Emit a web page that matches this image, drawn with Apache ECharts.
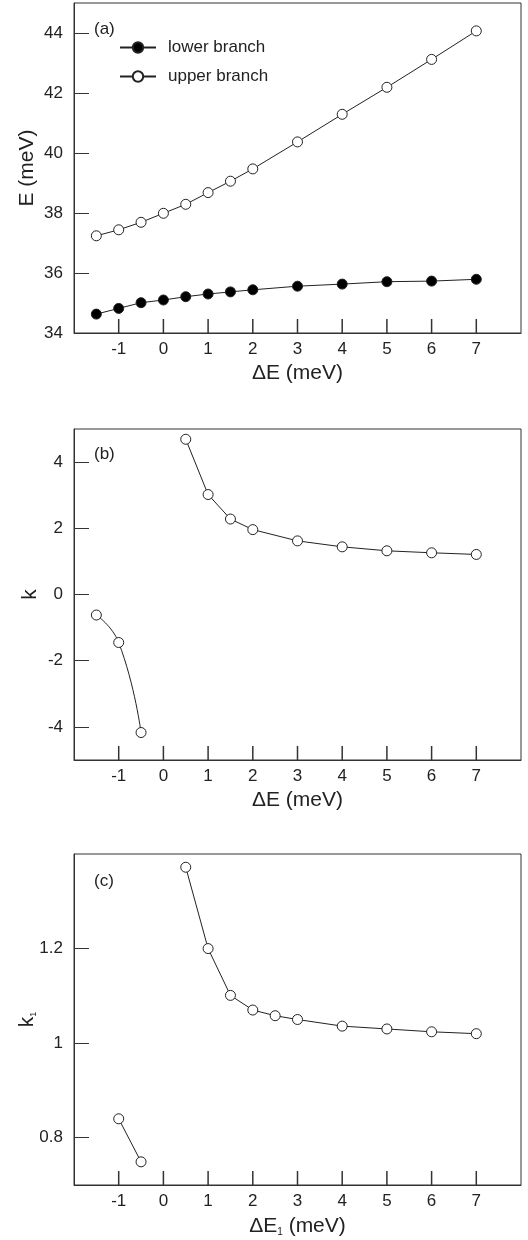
<!DOCTYPE html>
<html>
<head>
<meta charset="utf-8">
<script src="https://cdn.jsdelivr.net/npm/echarts@6/dist/echarts.min.js"></script>
<style>
  html, body { margin: 0; padding: 0; background: #fff; }
  #chart { width: 528px; height: 1240px; }
</style>
</head>
<body>
<div id="chart"></div>
<script>
// panel (a)
const dEa = [-1.5, -1, -0.5, 0, 0.5, 1, 1.5, 2, 3, 4, 5, 6, 7]
const lowerBranch = [34.63, 34.82, 35.01, 35.1, 35.21, 35.3, 35.37, 35.44, 35.56, 35.63, 35.71, 35.73, 35.79]
const upperBranch = [37.24, 37.44, 37.69, 37.99, 38.29, 38.68, 39.06, 39.47, 40.37, 41.29, 42.19, 43.12, 44.07]

// panel (b)
const dEbLow = [-1.5, -1, -0.5]
const kLow = [-0.62, -1.45, -4.17]
const dEbHigh = [0.5, 1, 1.5, 2, 3, 4, 5, 6, 7]
const kHigh = [4.69, 3.02, 2.28, 1.96, 1.62, 1.44, 1.32, 1.26, 1.21]

// panel (c)
const dEcLow = [-1, -0.5]
const k1Low = [0.84, 0.749]
const dEcHigh = [0.5, 1, 1.5, 2, 2.5, 3, 4, 5, 6, 7]
const k1High = [1.372, 1.2, 1.101, 1.07, 1.058, 1.05, 1.036, 1.03, 1.024, 1.02]

// tick labels
const xTicks = [-1, 0, 1, 2, 3, 4, 5, 6, 7]
const yTicksA = [34, 36, 38, 40, 42, 44]
const yTicksB = [-4, -2, 0, 2, 4]
const yTicksC = [0.8, 1, 1.2]

// axis ranges
const yMinA = 34, yMaxA = 45
const yMinB = -5, yMaxB = 5
const yMinC = 0.7, yMaxC = 1.4

const font = 'Liberation Sans, Arial, sans-serif'
const ink = '#222'

const pairs = (xs, ys) => xs.map((x, i) => [x, ys[i]])

function xAxis(idx, name) {
    return {
        type: 'value', gridIndex: idx, min: -2, max: 8,
        name: name, nameLocation: 'middle', nameGap: 30, nameMoveOverlap: false,
        nameTextStyle: {
            fontFamily: font, fontSize: 21, color: ink,
            rich: {
                a: { fontFamily: font, fontSize: 21, color: ink },
                s: { fontFamily: font, fontSize: 10, color: ink, padding: [12, 0, 0, 0] }
            }
        },
        axisLine: { show: true, onZero: false, lineStyle: { color: '#333' } },
        axisTick: { show: false },
        axisLabel: { customValues: xTicks, fontFamily: font, fontSize: 17, color: ink },
        splitLine: { show: false }
    }
}

function yAxis(idx, min, max, ticks, name, gap) {
    return {
        type: 'value', gridIndex: idx, min: min, max: max,
        name: name, nameLocation: 'middle', nameGap: gap, nameRotate: 90, nameMoveOverlap: false,
        nameTextStyle: {
            fontFamily: font, fontSize: 21, color: ink,
            rich: {
                a: { fontFamily: font, fontSize: 21, color: ink },
                s: { fontFamily: font, fontSize: 9, color: ink, padding: [12, 0, 0, 0] }
            }
        },
        axisLine: { show: true, onZero: false, lineStyle: { color: '#333', width: 1 } },
        axisTick: { show: true, inside: true, length: 15, customValues: ticks, lineStyle: { color: '#333', width: 1 } },
        axisLabel: { customValues: ticks, margin: 11, fontFamily: font, fontSize: 17, color: ink },
        splitLine: { show: false }
    }
}

function line(name, idx, data, filled, smooth) {
    return {
        name: name, type: 'line', xAxisIndex: idx, yAxisIndex: idx,
        data: data, smooth: smooth, symbol: 'circle', symbolSize: 10,
        showAllSymbol: true, z: 3,
        lineStyle: { color: '#222', width: 1 },
        itemStyle: { color: filled ? '#000' : '#fff', borderColor: '#222', borderWidth: 1 }
    }
}

// bottom ticks drawn by hand: the axisTick ones kept dropping out
function xTickMarks(idx, yMin) {
    return {
        type: 'custom', xAxisIndex: idx, yAxisIndex: idx, silent: true, clip: false, z: 1,
        data: xTicks.map((v) => [v, yMin]),
        renderItem: function (params, api) {
            const p = api.coord([api.value(0), api.value(1)])
            return {
                type: 'line',
                shape: { x1: p[0], y1: p[1], x2: p[0], y2: p[1] - 14 },
                style: { stroke: '#333', lineWidth: 1.5 }
            }
        }
    }
}

const chart = echarts.init(document.getElementById('chart'), null, { renderer: 'canvas' })

chart.setOption({
    animation: false,
    backgroundColor: '#fff',
    title: [
        { text: '(a)', left: 94, top: 21, padding: 0, textStyle: { fontFamily: font, fontSize: 17, fontWeight: 'normal', color: ink } },
        { text: '(b)', left: 94, top: 446, padding: 0, textStyle: { fontFamily: font, fontSize: 17, fontWeight: 'normal', color: ink } },
        { text: '(c)', left: 94, top: 873, padding: 0, textStyle: { fontFamily: font, fontSize: 17, fontWeight: 'normal', color: ink } }
    ],
    legend: {
        data: ['lower branch', 'upper branch'],
        orient: 'vertical', left: 119, top: 39, padding: 0,
        itemWidth: 36, itemHeight: 13, itemGap: 12,
        textStyle: { fontFamily: font, fontSize: 17, color: ink, padding: [0, 0, 0, 7] }
    },
    grid: [
        { left: 74, right: 7, top: 3, height: 330, show: true, borderColor: '#333', borderWidth: 1 },
        { left: 74, right: 7, top: 429, height: 331, show: true, borderColor: '#333', borderWidth: 1 },
        { left: 74, right: 7, top: 854, height: 331, show: true, borderColor: '#333', borderWidth: 1 }
    ],
    xAxis: [
        xAxis(0, 'ΔE (meV)'),
        xAxis(1, 'ΔE (meV)'),
        xAxis(2, '{a|ΔE}{s|1}{a| (meV)}')
    ],
    yAxis: [
        yAxis(0, yMinA, yMaxA, yTicksA, '{a|E (meV)}', 36),
        yAxis(1, yMinB, yMaxB, yTicksB, '{a|k}', 33),
        yAxis(2, yMinC, yMaxC, yTicksC, '{a|k}{s|1}', 36)
    ],
    series: [
        xTickMarks(0, yMinA),
        xTickMarks(1, yMinB),
        xTickMarks(2, yMinC),
        line('lower branch', 0, pairs(dEa, lowerBranch), true, false),
        line('upper branch', 0, pairs(dEa, upperBranch), false, false),
        line('k low', 1, pairs(dEbLow, kLow), false, true),
        line('k high', 1, pairs(dEbHigh, kHigh), false, false),
        line('k1 low', 2, pairs(dEcLow, k1Low), false, false),
        line('k1 high', 2, pairs(dEcHigh, k1High), false, false)
    ]
})

window.addEventListener('resize', function () {
    chart.resize()
})
</script>
</body>
</html>
